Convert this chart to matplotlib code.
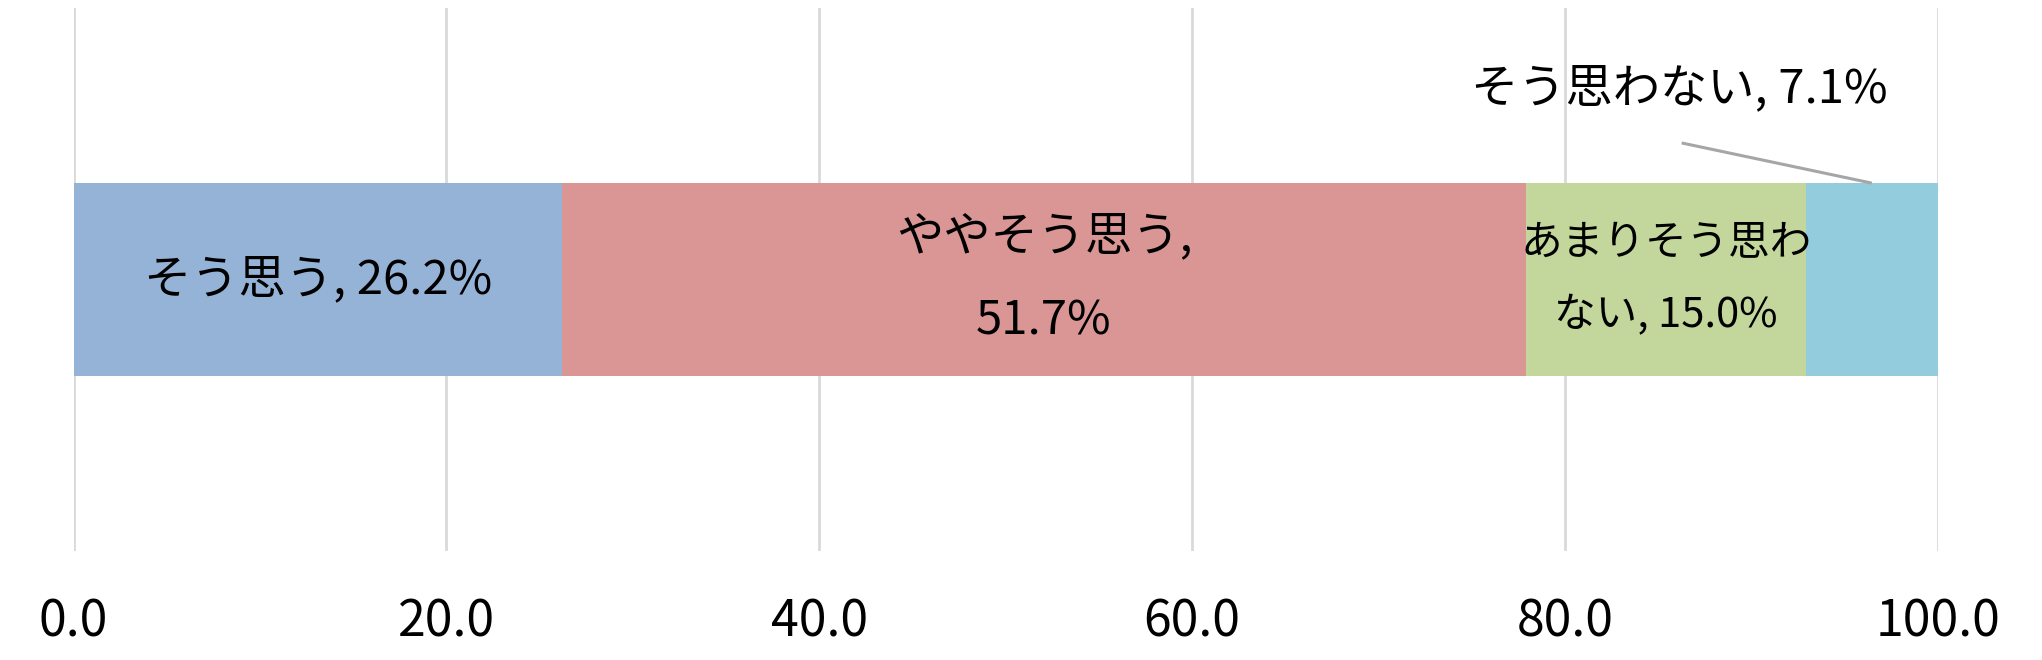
import matplotlib
matplotlib.use("Agg")
import matplotlib.pyplot as plt

plt.rcParams['font.family'] = ['Noto Sans CJK JP', 'DejaVu Sans']

categories = ["そう思う", "ややそう思う", "あまりそう思わない", "そう思わない"]
values = [26.2, 51.7, 15.0, 7.1]
colors = ["#95b3d7", "#d99694", "#c3d69b", "#93cddd"]
xticks = [0, 20, 40, 60, 80, 100]
xtick_labels = ["0.0", "20.0", "40.0", "60.0", "80.0", "100.0"]
# where Excel wrapped each data label (character index of the break, None = no wrap)
wrap_at = [None, 7, 7, None]

W, H = 2042, 660
fig = plt.figure(figsize=(W / 100, H / 100), dpi=100)
ax = fig.add_axes([73.6 / W, (H - 551) / H, (1938 - 73.6) / W, 543 / H])

ax.set_xlim(0, 100)
ax.set_ylim(-1, 1)
for s in ax.spines.values():
    s.set_visible(False)
ax.set_yticks([])
ax.set_xticks(xticks)
ax.set_xticklabels(xtick_labels, fontsize=36)
ax.tick_params(axis='x', length=0, pad=33)
ax.grid(axis='x', color='#d9d9d9', linewidth=2)
ax.set_axisbelow(True)

bar_h = 0.71
left = 0.0
for i, (cat, v, c) in enumerate(zip(categories, values, colors)):
    ax.barh(0, v, left=left, height=bar_h, color=c, edgecolor='none')
    label = f"{cat}, {v:.1f}%"
    mid = left + v / 2
    if i == 3:
        # label placed above the bar with a leader line
        ax.text(86.1, 0.70, label, fontsize=34, ha='center', va='center')
        ax.plot([86.25, mid], [0.503, bar_h / 2], color='#a6a6a6', lw=2.2,
                solid_capstyle='butt')
    else:
        fs = 30 if i == 2 else 34
        if wrap_at[i] is not None:
            k = wrap_at[i]
            label = label[:k].rstrip() + "\n" + label[k:].lstrip()
        ax.text(mid, 0, label, ha='center', va='center', fontsize=fs,
                linespacing=1.95, color='black')
    left += v

fig.savefig("out.png", dpi=100)
